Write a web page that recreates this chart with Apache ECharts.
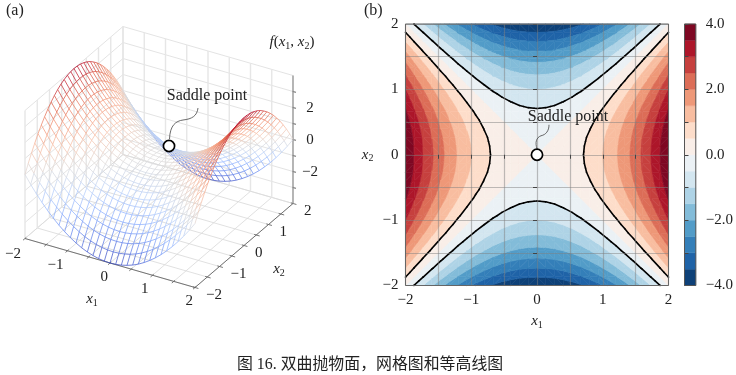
<!DOCTYPE html>
<html>
<head>
<meta charset="utf-8">
<title>双曲抛物面</title>
<script src="https://cdn.jsdelivr.net/npm/echarts@6/dist/echarts.min.js"></script>
<style>
	html, body { margin: 0; padding: 0; background: #fff; }
	#main { width: 736px; height: 375px; }
</style>
</head>
<body>
<div id="main"></div>
<script>
// mesh positions on x1 and x2, the same 31 ticks for both
var meshTicks = [-2, -1.867, -1.733, -1.6, -1.467, -1.333, -1.2, -1.067, -0.933, -0.8, -0.667, -0.533, -0.4, -0.267, -0.133, 0,
	0.133, 0.267, 0.4, 0.533, 0.667, 0.8, 0.933, 1.067, 1.2, 1.333, 1.467, 1.6, 1.733, 1.867, 2];

// f(x1, x2) for the corner quarter, x1 and x2 from -2 to 0. the surface mirrors on both axes
var surfaceQuarter = [
	[0, 0.52, 1, 1.44, 1.85, 2.22, 2.56, 2.86, 3.13, 3.36, 3.56, 3.72, 3.84, 3.93, 3.98, 4],
	[-0.52, 0, 0.48, 0.92, 1.33, 1.7, 2.04, 2.34, 2.61, 2.84, 3.04, 3.2, 3.32, 3.41, 3.46, 3.48],
	[-1, -0.48, 0, 0.44, 0.85, 1.22, 1.56, 1.86, 2.13, 2.36, 2.56, 2.72, 2.84, 2.93, 2.98, 3],
	[-1.44, -0.92, -0.44, 0, 0.41, 0.78, 1.12, 1.42, 1.69, 1.92, 2.12, 2.28, 2.4, 2.49, 2.54, 2.56],
	[-1.85, -1.33, -0.85, -0.41, 0, 0.37, 0.71, 1.01, 1.28, 1.51, 1.71, 1.87, 1.99, 2.08, 2.13, 2.15],
	[-2.22, -1.7, -1.22, -0.78, -0.37, 0, 0.34, 0.64, 0.91, 1.14, 1.34, 1.5, 1.62, 1.71, 1.76, 1.78],
	[-2.56, -2.04, -1.56, -1.12, -0.71, -0.34, 0, 0.3, 0.57, 0.8, 1, 1.16, 1.28, 1.37, 1.42, 1.44],
	[-2.86, -2.34, -1.86, -1.42, -1.01, -0.64, -0.3, 0, 0.27, 0.5, 0.7, 0.86, 0.98, 1.07, 1.12, 1.14],
	[-3.13, -2.61, -2.13, -1.69, -1.28, -0.91, -0.57, -0.27, 0, 0.23, 0.43, 0.59, 0.71, 0.8, 0.85, 0.87],
	[-3.36, -2.84, -2.36, -1.92, -1.51, -1.14, -0.8, -0.5, -0.23, 0, 0.2, 0.36, 0.48, 0.57, 0.62, 0.64],
	[-3.56, -3.04, -2.56, -2.12, -1.71, -1.34, -1, -0.7, -0.43, -0.2, 0, 0.16, 0.28, 0.37, 0.42, 0.44],
	[-3.72, -3.2, -2.72, -2.28, -1.87, -1.5, -1.16, -0.86, -0.59, -0.36, -0.16, 0, 0.12, 0.21, 0.26, 0.28],
	[-3.84, -3.32, -2.84, -2.4, -1.99, -1.62, -1.28, -0.98, -0.71, -0.48, -0.28, -0.12, 0, 0.09, 0.14, 0.16],
	[-3.93, -3.41, -2.93, -2.49, -2.08, -1.71, -1.37, -1.07, -0.8, -0.57, -0.37, -0.21, -0.09, 0, 0.05, 0.07],
	[-3.98, -3.46, -2.98, -2.54, -2.13, -1.76, -1.42, -1.12, -0.85, -0.62, -0.42, -0.26, -0.14, -0.05, 0, 0.02],
	[-4, -3.48, -3, -2.56, -2.15, -1.78, -1.44, -1.14, -0.87, -0.64, -0.44, -0.28, -0.16, -0.07, -0.02, 0]
];

var bandLevels = [-4, -3.5, -3, -2.5, -2, -1.5, -1, -0.5, 0, 0.5, 1, 1.5, 2, 2.5, 3, 3.5, 4];
var bandColors = ['#0e4178', '#1f63a7', '#347fb9', '#529cc8', '#83bcd9', '#aed3e6', '#d3e6f0', '#ebf1f5',
	'#f9eee8', '#fdddca', '#f8bda0', '#ee9878', '#dc6d57', '#c6403e', '#ad162a', '#7e0823'];
var contourLines = [-0.5, 0.5];
var coolwarm = ['#3b4cc0', '#6282ea', '#8db0fe', '#b9d0f9', '#dddcdc', '#f5c4ad', '#f49a7b', '#dd604a', '#b40426'];

var planeTicks = [-2, -1.5, -1, -0.5, 0, 0.5, 1, 1.5, 2];
var heightTicks = [-4, -3, -2, -1, 0, 1, 2, 3, 4];
var x1Labels = [-2, -1, 0, 1, 2];
var x2Labels = [-2, -1, 0, 1, 2];
var zLabels = [-2, 0, 2];
var saddle = [0, 0, 0];

var serif = '"Liberation Serif", "Noto Sans CJK SC", serif';
var subRich = {
	i: { fontFamily: serif, fontStyle: 'italic', fontSize: 15, lineHeight: 18, fill: '#222', color: '#222' },
	t: { fontFamily: serif, fontSize: 15, lineHeight: 18, fill: '#222', color: '#222' },
	s: { fontFamily: serif, fontSize: 10, lineHeight: 11, verticalAlign: 'bottom', fill: '#222', color: '#222' }
};

function surfaceAt(i, j) {
	return surfaceQuarter[i <= 15 ? i : 30 - i][j <= 15 ? j : 30 - j];
}

// the 3d box is a parallel projection, pixels per unit along x1, x2 and z
function project(x1, x2, z) {
	return [159 + 42.5 * x1 + 24.5 * x2, 157 + 12.25 * x1 - 21 * x2 - 16 * z];
}

function seg(a, b) {
	var p = project(a[0], a[1], a[2]);
	var q = project(b[0], b[1], b[2]);
	return [p[0], p[1], q[0], q[1]];
}

function minus(v) {
	return String(v).replace('-', '\u2212');
}

function segmentSeries(segs, stroke, width, z) {
	return {
		type: 'custom', xAxisIndex: 0, yAxisIndex: 0, z: z, silent: true, clip: false,
		data: segs,
		renderItem: function (params, api) {
			var p = api.coord([api.value(0), api.value(1)]);
			var q = api.coord([api.value(2), api.value(3)]);
			return {
				type: 'line',
				shape: { x1: p[0], y1: p[1], x2: q[0], y2: q[1] },
				style: { stroke: stroke, lineWidth: width, fill: null }
			};
		}
	};
}

function textSeries(items, gridIndex, z) {
	return {
		type: 'custom', xAxisIndex: gridIndex, yAxisIndex: gridIndex, z: z, silent: true, clip: false,
		data: items.map(function (t) { return [t.at[0], t.at[1]]; }),
		renderItem: function (params, api) {
			var t = items[params.dataIndex];
			var p = api.coord(t.at);
			return {
				type: 'text', x: p[0] + (t.dx || 0), y: p[1] + (t.dy || 0),
				style: {
					text: t.text, fill: '#222', rich: t.rich,
					font: (t.size || 15) + 'px ' + serif,
					align: t.align || 'center', verticalAlign: 'middle'
				}
			};
		}
	};
}

// circle and curved leader, both placed around the marker centre
function saddleSeries(at, gridIndex, off, curve) {
	return {
		type: 'custom', xAxisIndex: gridIndex, yAxisIndex: gridIndex, z: 9, silent: true, clip: false,
		data: [[at[0], at[1]]],
		renderItem: function (params, api) {
			var c = api.coord(at);
			var cx = c[0] + off[0], cy = c[1] + off[1];
			function bez(b) {
				return {
					type: 'bezierCurve',
					shape: {
						x1: cx + b[0], y1: cy + b[1], cpx1: cx + b[2], cpy1: cy + b[3],
						cpx2: cx + b[4], cpy2: cy + b[5], x2: cx + b[6], y2: cy + b[7]
					},
					style: { stroke: '#444', lineWidth: 0.8, fill: null }
				};
			}
			return {
				type: 'group',
				children: curve.map(bez).concat([{
					type: 'circle',
					shape: { cx: cx, cy: cy, r: 5.6 },
					style: { fill: '#fff', stroke: '#000', lineWidth: 1.7 }
				}])
			};
		}
	};
}

// ---- left panel, wireframe and box

var paneV = [], paneH = [], floorLines = [], axisSegs = [], zAxisSegs = [], meshSegs = [];
planeTicks.forEach(function (v) {
	paneV.push(seg([v, 2, -4], [v, 2, 4]));
	paneV.push(seg([-2, v, -4], [-2, v, 4]));
	floorLines.push(seg([v, -2, -4], [v, 2, -4]));
	floorLines.push(seg([-2, v, -4], [2, v, -4]));
	axisSegs.push(seg([v, -2.08, -4], [v, -1.95, -4]));
	axisSegs.push(seg([2.08, v, -4], [1.95, v, -4]));
});
heightTicks.forEach(function (h) {
	paneH.push(seg([-2, 2, h], [2, 2, h]));
	paneH.push(seg([-2, -2, h], [-2, 2, h]));
	if (Math.abs(h) < 4) zAxisSegs.push(seg([1.99, 2, h], [2.07, 2, h]));
});
axisSegs.push(seg([-2, -2, -4], [2, -2, -4]));
axisSegs.push(seg([2, -2, -4], [2, 2, -4]));
zAxisSegs.push(seg([2, 2, -4], [2, 2, 4]));

meshTicks.forEach(function (a, i) {
	meshTicks.forEach(function (b, j) {
		var z = surfaceAt(i, j);
		if (i < 30) {
			var z1 = surfaceAt(i + 1, j);
			meshSegs.push(seg([a, b, z], [meshTicks[i + 1], b, z1]).concat((z + z1) / 2));
		}
		if (j < 30) {
			var z2 = surfaceAt(i, j + 1);
			meshSegs.push(seg([a, b, z], [a, meshTicks[j + 1], z2]).concat((z + z2) / 2));
		}
	});
});

var saddleScreen = project(saddle[0], saddle[1], saddle[2]);

var texts3d = [];
x1Labels.forEach(function (v) {
	texts3d.push({ at: project(v, -2, -4), dx: v === 0 || v === 2 ? -2 : -4, dy: v === -2 ? 16 : 14, align: 'right', text: minus(v) });
});
x2Labels.forEach(function (v) {
	texts3d.push({ at: project(2, v, -4), dx: 11, dy: 8, align: 'left', text: minus(v) });
});
zLabels.forEach(function (v) {
	texts3d.push({ at: project(2, 2, v), dx: 17, dy: 1, text: minus(v) });
});
texts3d.push({ at: project(0, -2, -4), dx: -18, dy: 36, text: '{i|x}{s|1}', rich: subRich });
texts3d.push({ at: project(2, 0, -4), dx: 35, dy: 24, text: '{i|x}{s|2}', rich: subRich });
texts3d.push({ at: project(2, 2, 4), dx: -1, dy: -33, text: '{i|f}{t|(}{i|x}{s|1}{t|, }{i|x}{s|2}{t|)}', rich: subRich });
texts3d.push({ at: saddleScreen, dx: 48, dy: -61, size: 16, text: 'Saddle point' });

// ---- right panel, filled bands clipped out of each mesh triangle

function cut(poly, level, keepAbove) {
	var out = [];
	poly.forEach(function (p, n) {
		var q = poly[(n + 1) % poly.length];
		var pIn = keepAbove ? p[2] >= level : p[2] <= level;
		var qIn = keepAbove ? q[2] >= level : q[2] <= level;
		if (pIn) out.push(p);
		if (pIn !== qIn) {
			var t = (level - p[2]) / (q[2] - p[2]);
			out.push([p[0] + t * (q[0] - p[0]), p[1] + t * (q[1] - p[1]), level]);
		}
	});
	return out;
}

var triangles = [];
for (var i = 0; i < 30; i++) {
	for (var j = 0; j < 30; j++) {
		var a = [meshTicks[i], meshTicks[j], surfaceAt(i, j)];
		var b = [meshTicks[i + 1], meshTicks[j], surfaceAt(i + 1, j)];
		var c = [meshTicks[i + 1], meshTicks[j + 1], surfaceAt(i + 1, j + 1)];
		var d = [meshTicks[i], meshTicks[j + 1], surfaceAt(i, j + 1)];
		// split along the zero diagonals so the centre cross stays straight
		if ((i < 15) === (j < 15)) {
			triangles.push([a, b, c], [a, c, d]);
		} else {
			triangles.push([a, b, d], [b, c, d]);
		}
	}
}

var bandPolys = [], lineSegs = [];
triangles.forEach(function (tri) {
	bandColors.forEach(function (color, n) {
		var poly = cut(cut(tri, bandLevels[n], true), bandLevels[n + 1], false);
		if (poly.length > 2) bandPolys.push({ pts: poly, color: color });
	});
	contourLines.forEach(function (level) {
		var hits = [];
		tri.forEach(function (p, n) {
			var q = tri[(n + 1) % 3];
			if ((p[2] < level) !== (q[2] < level)) {
				var t = (level - p[2]) / (q[2] - p[2]);
				hits.push([p[0] + t * (q[0] - p[0]), p[1] + t * (q[1] - p[1])]);
			}
		});
		if (hits.length === 2) lineSegs.push([hits[0][0], hits[0][1], hits[1][0], hits[1][1]]);
	});
});

function frameSeries(gridIndex, from, to, color) {
	return {
		type: 'custom', xAxisIndex: gridIndex, yAxisIndex: gridIndex, z: 6, silent: true, clip: false,
		data: [[from[0], from[1]]],
		renderItem: function (params, api) {
			var p = api.coord(from), q = api.coord(to);
			return {
				type: 'rect',
				shape: { x: p[0], y: p[1], width: q[0] - p[0], height: q[1] - p[1] },
				style: { fill: null, stroke: color, lineWidth: 1 }
			};
		}
	};
}

var seriesList = [
	segmentSeries(floorLines, '#d8d8d8', 0.8, 1),
	segmentSeries(paneH, '#dcdcdc', 0.8, 1),
	segmentSeries(paneV, '#e6e6e6', 1.4, 1),
	segmentSeries(axisSegs, '#666', 0.9, 2),
	segmentSeries(zAxisSegs, '#888', 1.1, 2),
	{
		type: 'custom', xAxisIndex: 0, yAxisIndex: 0, z: 3, silent: true, clip: false,
		data: meshSegs,
		renderItem: function (params, api) {
			var p = api.coord([api.value(0), api.value(1)]);
			var q = api.coord([api.value(2), api.value(3)]);
			return {
				type: 'line',
				shape: { x1: p[0], y1: p[1], x2: q[0], y2: q[1] },
				style: { stroke: api.visual('color'), lineWidth: 0.75, fill: null }
			};
		}
	},
	textSeries(texts3d, 0, 7),
	saddleSeries(saddleScreen, 0, [10, -11], [[0.5, -7, 1, -21, 7, -25, 14, -26], [14, -26, 23, -27, 28, -30, 29, -38]]),
	{
		type: 'custom', xAxisIndex: 1, yAxisIndex: 1, z: 1, silent: true, clip: false,
		data: bandPolys.map(function (p) { return [p.pts[0][0], p.pts[0][1]]; }),
		renderItem: function (params, api) {
			var poly = bandPolys[params.dataIndex];
			return {
				type: 'polygon',
				shape: { points: poly.pts.map(function (p) { return api.coord([p[0], p[1]]); }) },
				style: { fill: poly.color, stroke: poly.color, lineWidth: 0.6 }
			};
		}
	},
	{
		type: 'custom', xAxisIndex: 1, yAxisIndex: 1, z: 2, silent: true, clip: false,
		data: lineSegs,
		renderItem: function (params, api) {
			var p = api.coord([api.value(0), api.value(1)]);
			var q = api.coord([api.value(2), api.value(3)]);
			return {
				type: 'line',
				shape: { x1: p[0], y1: p[1], x2: q[0], y2: q[1] },
				style: { stroke: '#000', lineWidth: 1.6, lineCap: 'round', fill: null }
			};
		}
	},
	frameSeries(1, [-2, 2], [2, -2], '#666'),
	textSeries([{ at: [0, 0], dx: 31, dy: -38, size: 16, text: 'Saddle point' }], 1, 8),
	saddleSeries([0, 0], 1, [0, 0], [[0, -6, -2, -12, -1, -17, 4, -19], [4, -19, 9, -20, 12, -24, 12, -30]]),
	{
		type: 'custom', xAxisIndex: 2, yAxisIndex: 2, z: 1, silent: true, clip: false,
		data: bandColors.map(function (color, n) { return [0, bandLevels[n]]; }),
		renderItem: function (params, api) {
			var n = params.dataIndex;
			var p = api.coord([0, bandLevels[n + 1]]), q = api.coord([1, bandLevels[n]]);
			return {
				type: 'rect',
				shape: { x: p[0], y: p[1], width: q[0] - p[0], height: q[1] - p[1] },
				style: { fill: bandColors[n], stroke: bandColors[n], lineWidth: 0.4 }
			};
		}
	},
	frameSeries(2, [0, 4], [1, -4], '#555')
];

var axisText = { fontFamily: serif, fontSize: 15, color: '#222' };

function planeAxis(extra, labelPadding) {
	return Object.assign({
		type: 'value', gridIndex: 1, min: -2, max: 2, interval: 0.5, z: 4,
		axisLine: { show: false },
		axisTick: { show: true, length: 4, lineStyle: { color: '#444', width: 1 } },
		axisLabel: Object.assign({}, axisText, {
			margin: 7,
			padding: labelPadding,
			formatter: function (v) { return v % 1 === 0 ? minus(v) : ''; }
		}),
		splitLine: { show: true, lineStyle: { color: 'rgba(128,128,128,0.5)', width: 1.2 } },
		nameLocation: 'middle',
		nameRotate: 0,
		nameTextStyle: { rich: subRich }
	}, extra);
}

var titleText = { fontFamily: serif, fontSize: 16, fontWeight: 'normal', color: '#222' };

var myChart = echarts.init(document.getElementById('main'));
myChart.setOption({
	backgroundColor: '#fff',
	animation: false,
	title: [
		{ text: '(a)', left: 6, top: 3, padding: 0, textStyle: titleText },
		{ text: '(b)', left: 364, top: 3, padding: 0, textStyle: titleText },
		{ text: '图 16. 双曲抛物面，网格图和等高线图', left: 237, top: 357, padding: 0,
			textStyle: Object.assign({}, titleText, { fontSize: 15.9 }) }
	],
	grid: [
		{ left: 0, top: 0, width: 350, height: 340 },
		{ left: 405.5, top: 24, width: 263, height: 261.5 },
		{ left: 684.5, top: 24, width: 12.5, height: 261.5 }
	],
	xAxis: [
		{ type: 'value', gridIndex: 0, min: 0, max: 350, show: false },
		planeAxis({ position: 'bottom', name: '{i|x}{s|1}', nameGap: 27 }, 0),
		{ type: 'value', gridIndex: 2, min: 0, max: 1, show: false }
	],
	yAxis: [
		{ type: 'value', gridIndex: 0, min: 0, max: 340, inverse: true, show: false },
		planeAxis({ position: 'left', name: '{i|x}{s|2}', nameGap: 32 }, [3, 0, 0, 0]),
		{
			type: 'value', gridIndex: 2, min: -4, max: 4, interval: 1, position: 'right', z: 4,
			axisLine: { show: false },
			axisTick: { show: true, length: 4, lineStyle: { color: '#444', width: 1 } },
			axisLabel: Object.assign({}, axisText, {
				margin: 10,
				padding: [3, 0, 0, 0],
				formatter: function (v) { return v % 2 === 0 ? minus(v.toFixed(1)) : ''; }
			}),
			splitLine: { show: false }
		}
	],
	visualMap: {
		type: 'continuous', show: false, min: -4, max: 4, dimension: 4, seriesIndex: 5,
		inRange: { color: coolwarm }
	},
	series: seriesList
});
</script>
</body>
</html>
